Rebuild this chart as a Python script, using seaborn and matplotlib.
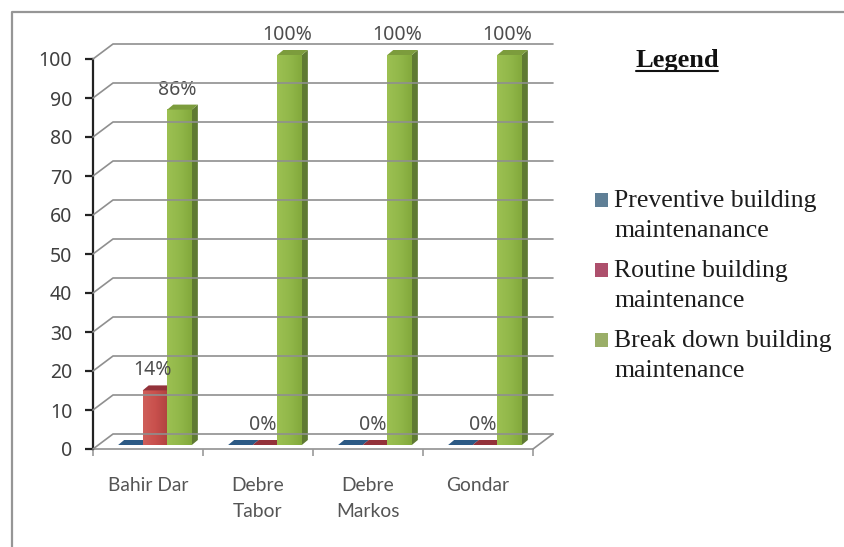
import matplotlib
matplotlib.use("Agg")
import matplotlib.pyplot as plt
import numpy as np
import pandas as pd
import seaborn as sns
from matplotlib.colors import LinearSegmentedColormap
from matplotlib.lines import Line2D
from matplotlib.patches import Polygon, Patch, Rectangle
from matplotlib.transforms import Affine2D, IdentityTransform

# Survey results: share of each maintenance type per town
towns = ["Bahir Dar", "Debre\nTabor", "Debre\nMarkos", "Gondar"]
preventive = [0, 0, 0, 0]
routine = [14, 0, 0, 0]
breakdown = [86, 100, 100, 100]
series_names = ["Preventive building\nmaintenanance",
                "Routine building\nmaintenance",
                "Break down building\nmaintenance"]
y_ticks = list(range(0, 101, 10))

W, H = 844, 547
sns.set_theme(style="white")
plt.rcParams["font.family"] = ["Lato", "DejaVu Sans"]

fig = plt.figure(figsize=(W / 100, H / 100), dpi=100, facecolor="white")
ax = fig.add_axes([93 / W, (H - 449) / H, 440 / W, 390 / H])
ax.set_facecolor("none")

df = pd.DataFrame({
    "town": np.repeat(towns, 3),
    "kind": series_names * len(towns),
    "value": np.ravel(np.column_stack([preventive, routine, breakdown])),
})
front = ["#4f7da8", "#c0504d", "#9bbb59"]
side = ["#2f4f72", "#8a3533", "#5f7a32"]
cap = ["#2c5a85", "#93323a", "#7c9c3c"]
ramps = [["#6d96bd", "#4f7da8", "#3c6a94"],
         ["#cf5f5a", "#c9504c", "#b04340"],
         ["#9cc052", "#92b84a", "#83a93c"]]

sns.barplot(data=df, x="town", y="value", hue="kind", hue_order=series_names,
            order=towns, palette=front, width=0.67, gap=0, saturation=1,
            legend=False, ax=ax, zorder=4)
ax.set_xlim(-0.5, 3.5)
ax.set_ylim(0, 100)

# Depth offsets, in pixels: wall behind the plot, bar seat, bar thickness
WALL = (20, 15)
SEAT = (7, 4)
DEPTH = (6, 5)
fig.canvas.draw()
to_px = ax.transData.transform
px = IdentityTransform()

# Back wall gridlines with the diagonals running forward to the axis
grid_col = "#8f8f8f"
for t in y_ticks:
    x0, y0 = to_px((-0.5, t))
    x1, _ = to_px((3.5, t))
    fig.add_artist(Line2D([x0, x0 + WALL[0], x1 + WALL[0]],
                          [y0, y0 + WALL[1], y0 + WALL[1]],
                          transform=px, color=grid_col, lw=1.2, zorder=1))
x0, y0 = to_px((3.5, 0))
fig.add_artist(Line2D([x0, x0 + WALL[0]], [y0, y0 + WALL[1]],
                      transform=px, color=grid_col, lw=1.2, zorder=1))

# Give every bar a seat on the floor, a shaded face, a side and a cap
seat = Affine2D().translate(*SEAT)
label_shift = Affine2D().translate(SEAT[0] - 2, SEAT[1])
bars = [p for p in ax.patches if isinstance(p, Rectangle)]
for i, bar in enumerate(bars):
    s = i // len(towns)
    bar.set_transform(ax.transData + seat)
    bar.set_clip_on(False)
    xa, ya = to_px((bar.get_x(), 0))
    xb, yb = to_px((bar.get_x() + bar.get_width(), bar.get_height()))
    xa, xb = xa + SEAT[0], xb + SEAT[0]
    ya, yb = ya + SEAT[1], yb + SEAT[1]
    dx, dy = DEPTH
    cmap = LinearSegmentedColormap.from_list(f"ramp{s}", ramps[s])
    if yb > ya:
        ax.imshow(np.linspace(0, 1, 32).reshape(1, -1), cmap=cmap, aspect="auto",
                  extent=(xa, xb, ya, yb), transform=px, zorder=5 + 0.1 * s,
                  clip_on=False)
    ax.add_patch(Polygon([(xb, ya), (xb + dx, ya + dy), (xb + dx, yb + dy), (xb, yb)],
                         transform=px, facecolor=side[s], edgecolor="none",
                         zorder=4 + 0.1 * s, clip_on=False))
    ax.add_patch(Polygon([(xa, yb), (xa + dx, yb + dy), (xb + dx, yb + dy), (xb, yb)],
                         transform=px, facecolor=cap[s], edgecolor="none",
                         zorder=5 + 0.1 * s, clip_on=False))
    # Only the taller two series carry value labels
    if s > 0:
        ax.annotate(f"{bar.get_height():.0f}%",
                    (bar.get_x() + bar.get_width() / 2, bar.get_height()),
                    xycoords=ax.transData + label_shift, xytext=(0, 20 * 0.72),
                    textcoords="offset points", ha="center", va="center",
                    fontsize=14, color="#4d4d4d", zorder=8, annotation_clip=False,
                    family=["Noto Sans"])

ax.set_xlim(-0.5, 3.5)
ax.set_ylim(0, 100)

# Axes: heavy value axis, light category axis
for name in ["top", "right"]:
    ax.spines[name].set_visible(False)
ax.spines["left"].set_color("#222222")
ax.spines["left"].set_linewidth(1.6)
ax.spines["bottom"].set_color("#9a9a9a")
ax.spines["bottom"].set_linewidth(1.3)
ax.spines["left"].set_zorder(6)
ax.set_yticks(y_ticks)
ax.set_yticklabels([str(t) for t in y_ticks], fontsize=14, color="#3f3f3f",
                   family=["Noto Sans"])
ax.set_xticks(np.arange(-0.5, 3.6, 1), minor=True)
ax.set_xticks(range(len(towns)))
ax.set_xticklabels(towns, fontsize=13.9, color="#555555", linespacing=1.65)
ax.tick_params(axis="y", which="major", left=True, length=6, width=1.6, color="#222222", pad=9)
ax.tick_params(axis="x", which="major", bottom=False, pad=14)
ax.tick_params(axis="x", which="minor", bottom=True, length=5, width=1.2, color="#9a9a9a")
ax.set_xlabel("")
ax.set_ylabel("")

# Key on the right, with its underlined heading
fig.text(677 / W, (H - 60) / H, "Legend", family=["Liberation Serif"], fontsize=19,
         fontweight="bold", ha="center", va="center", color="#111111")
fig.add_artist(Line2D([636 / W, 718 / W], [(H - 71) / H] * 2, color="#111111", lw=1.5))
handles = [Patch(facecolor=c, edgecolor="none") for c in ["#5f7f96", "#ad4f6c", "#9aae68"]]
legend = fig.legend(handles, series_names, loc="upper left",
                    bbox_to_anchor=(595 / W, (H - 190) / H), frameon=False,
                    prop={"family": "Liberation Serif", "size": 18.5}, labelcolor="#1c1c1c",
                    handlelength=0.5, handleheight=0.5, handletextpad=0.25,
                    labelspacing=0.71, borderpad=0, borderaxespad=0)
for t in legend.get_texts():
    t.set_linespacing(1.46)
# Swatches sit beside the first line of each two-line entry
for patch in legend.get_patches():
    patch.set_y(patch.get_y() + 11)

# Frame along the top and left of the chart
fig.add_artist(Line2D([11.5 / W, 11.5 / W, 844 / W], [(H - 547) / H, (H - 12) / H, (H - 12) / H],
                      color="#969696", lw=1.6))

fig.savefig("out.png", dpi=100, facecolor="white")
